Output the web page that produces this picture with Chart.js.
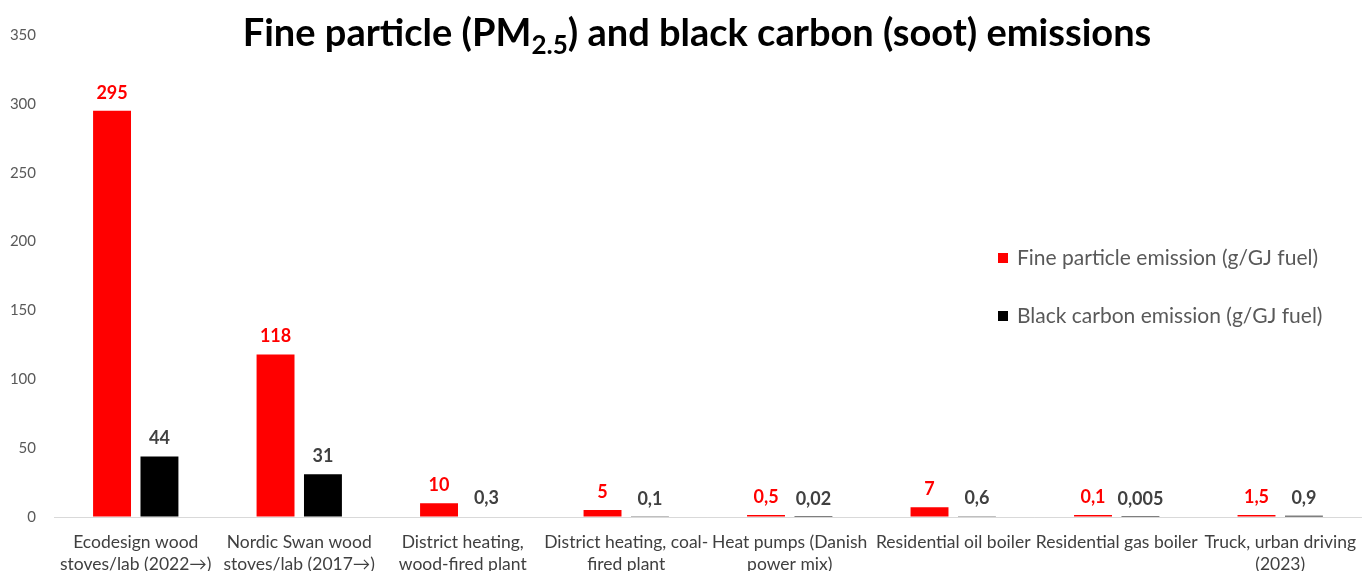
<!DOCTYPE html>
<html>
<head>
<meta charset="utf-8">
<script src="https://cdn.jsdelivr.net/npm/chart.js@4"></script>
<style>
  html, body { margin: 0; padding: 0; background: #fff; }
  #wrap { width: 1362px; height: 571px; }
</style>
</head>
<body>
<div id="wrap"><canvas id="pmchart"></canvas></div>
<script>
// categories (already wrapped into lines like in the original)
const categories = [
    ["Ecodesign wood", "stoves/lab (2022\u2192)"],
    ["Nordic Swan wood", "stoves/lab (2017\u2192)"],
    ["District heating,", "wood-fired plant"],
    ["District heating, coal-", "fired plant"],
    ["Heat pumps (Danish", "power mix)"],
    ["Residential oil boiler"],
    ["Residential gas boiler"],
    ["Truck, urban driving", "(2023)"]
];
const fineParticle = [295, 118, 10, 5, 0.5, 7, 0.1, 1.5];
const blackCarbon = [44, 31, 0.3, 0.1, 0.02, 0.6, 0.005, 0.9];
const seriesNames = ["Fine particle emission (g/GJ fuel)", "Black carbon emission (g/GJ fuel)"];
const yTicks = [0, 50, 100, 150, 200, 250, 300, 350];

const FONT = "Lato, 'Open Sans', sans-serif";

// value labels above the bars
const barLabels = {
    id: 'barLabels',
    afterDatasetsDraw(chart) {
        const ctx = chart.ctx;
        ctx.save();
        ctx.font = "bold 18px " + FONT;
        ctx.textAlign = 'center';
        ctx.textBaseline = 'middle';
        chart.data.datasets.forEach((ds, i) => {
            const meta = chart.getDatasetMeta(i);
            ctx.fillStyle = i === 0 ? '#ff0000' : '#404040';
            meta.data.forEach((bar, j) => {
                const txt = String(ds.data[j]).replace('.', ',');
                ctx.fillText(txt, bar.x, bar.y - 18);
            });
        });
        ctx.restore();
    }
};

// title with subscript 2.5
const titlePlugin = {
    id: 'titlePlugin',
    afterDraw(chart) {
        const ctx = chart.ctx;
        ctx.save();
        const big = "bold 38px " + FONT;
        const small = "bold 26px " + FONT;
        const parts = [
            { t: "Fine particle (PM", f: big, dy: 0 },
            { t: "2.5", f: small, dy: 8 },
            { t: ") and black carbon (soot) emissions", f: big, dy: 0 }
        ];
        let total = 0;
        parts.forEach(p => { ctx.font = p.f; p.w = ctx.measureText(p.t).width; total += p.w; });
        let x = chart.width / 2 + 16 - total / 2;
        const y = 46;
        ctx.fillStyle = '#000000';
        ctx.textBaseline = 'alphabetic';
        ctx.textAlign = 'left';
        parts.forEach(p => {
            ctx.font = p.f;
            ctx.fillText(p.t, x, y + p.dy);
            x += p.w;
        });
        ctx.restore();
    }
};

// legend inside the plot, on the right
const legendPlugin = {
    id: 'legendPlugin',
    afterDraw(chart) {
        const ctx = chart.ctx;
        ctx.save();
        ctx.font = "21px " + FONT;
        ctx.textBaseline = 'middle';
        ctx.textAlign = 'left';
        const x0 = 998;
        const ys = [258, 316];
        chart.data.datasets.forEach((ds, i) => {
            ctx.fillStyle = ds.backgroundColor;
            ctx.fillRect(x0, ys[i] - 5, 10, 10);
            ctx.fillStyle = '#595959';
            ctx.fillText(ds.label, x0 + 19, ys[i]);
        });
        ctx.restore();
    }
};

new Chart(document.getElementById('pmchart'), {
    type: 'bar',
    data: {
        labels: categories,
        datasets: [
            {
                label: seriesNames[0],
                data: fineParticle,
                backgroundColor: '#ff0000',
                minBarLength: 2,
                categoryPercentage: 0.58,
                barPercentage: 0.8
            },
            {
                label: seriesNames[1],
                data: blackCarbon,
                backgroundColor: '#000000',
                categoryPercentage: 0.58,
                barPercentage: 0.8
            }
        ]
    },
    options: {
        responsive: true,
        maintainAspectRatio: false,
        animation: false,
        layout: { padding: { left: 0, right: 0, top: 35, bottom: 0 } },
        plugins: {
            legend: { display: false },
            title: { display: false },
            tooltip: { enabled: false }
        },
        scales: {
            x: {
                grid: { display: false },
                border: { display: false },
                ticks: {
                    color: '#404040',
                    font: { family: FONT, size: 17.5, lineHeight: 1.26 },
                    padding: 6,
                    maxRotation: 0,
                    autoSkip: false
                },
                afterFit(scale) { scale.height = 54; }
            },
            y: {
                min: 0,
                max: 350,
                afterBuildTicks(scale) { scale.ticks = yTicks.map(v => ({ value: v })); },
                grid: {
                    drawTicks: false,
                    color: ctx => ctx.tick && ctx.tick.value === 0 ? '#d9d9d9' : 'rgba(0,0,0,0)',
                    lineWidth: 1
                },
                border: { display: false },
                ticks: {
                    color: '#595959',
                    font: { family: FONT, size: 15 },
                    padding: 18
                },
                afterFit(scale) { scale.width = 54; }
            }
        }
    },
    plugins: [barLabels, titlePlugin, legendPlugin]
});
</script>
</body>
</html>
